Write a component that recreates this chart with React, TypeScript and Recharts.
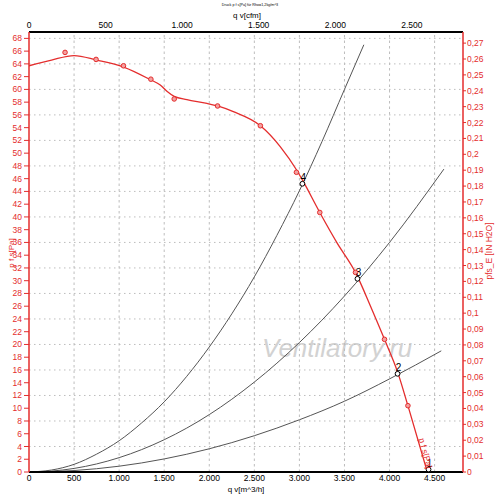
import React from 'react';
import { ComposedChart, Line, Scatter, XAxis, YAxis, ReferenceLine } from 'recharts';

const flowTicks = [0, 500, 1000, 1500, 2000, 2500, 3000, 3500, 4000, 4500];
const cfmTicks = [0, 500, 1000, 1500, 2000, 2500];
const paTicks = [0, 2, 4, 6, 8, 10, 12, 14, 16, 18, 20, 22, 24, 26, 28, 30, 32, 34, 36, 38, 40, 42, 44, 46, 48, 50, 52, 54, 56, 58, 60, 62, 64, 66, 68];
const inchTicks = [0, 0.01, 0.02, 0.03, 0.04, 0.05, 0.06, 0.07, 0.08, 0.09, 0.1, 0.11, 0.12, 0.13, 0.14, 0.15, 0.16, 0.17, 0.18, 0.19, 0.2, 0.21, 0.22, 0.23, 0.24, 0.25, 0.26, 0.27];
const gridPa = [4, 8, 12, 16, 20, 24, 28, 32, 36, 40, 44, 48, 52, 56, 60, 64, 68];
const gridFlow = [500, 1000, 1500, 2000, 2500, 3000, 3500, 4000, 4500];

const flowDomain = [0, 4815];
const cfmDomain = [0, 2834];
const paDomain = [0, 69];
const inchDomain = [0, 0.277];

const fanCurve = [
  { q: 0, p: 63.7 }, { q: 250, p: 64.6 }, { q: 500, p: 65.3 }, { q: 750, p: 64.6 },
  { q: 1050, p: 63.5 }, { q: 1350, p: 61.5 }, { q: 1456, p: 60.7 }, { q: 1530, p: 59.7 },
  { q: 1611, p: 58.9 }, { q: 1752, p: 58.4 }, { q: 1974, p: 57.8 }, { q: 2092, p: 57.4 },
  { q: 2267, p: 56.5 }, { q: 2567, p: 54.3 }, { q: 2789, p: 51.0 }, { q: 2967, p: 47.4 },
  { q: 3033, p: 45.8 }, { q: 3226, p: 40.7 }, { q: 3419, p: 35.9 }, { q: 3622, p: 31.3 },
  { q: 3789, p: 26.0 }, { q: 3944, p: 20.8 }, { q: 4089, p: 15.7 }, { q: 4204, p: 10.4 },
  { q: 4419, p: 0 },
];

const fanMarkers = [
  { q: 400, p: 65.8 }, { q: 744, p: 64.7 }, { q: 1048, p: 63.7 }, { q: 1352, p: 61.6 },
  { q: 1611, p: 58.5 }, { q: 2092, p: 57.4 }, { q: 2567, p: 54.3 }, { q: 2967, p: 47.0 },
  { q: 3226, p: 40.7 }, { q: 3622, p: 31.3 }, { q: 3944, p: 20.8 }, { q: 4204, p: 10.4 },
];

const systemSteep = [
  { q: 0, p: 0 }, { q: 250, p: 0.31 }, { q: 500, p: 1.2 }, { q: 750, p: 2.8 }, { q: 1000, p: 4.9 },
  { q: 1250, p: 7.7 }, { q: 1500, p: 11.0 }, { q: 1750, p: 15.0 }, { q: 2000, p: 19.6 },
  { q: 2250, p: 24.8 }, { q: 2500, p: 30.6 }, { q: 2750, p: 37.1 }, { q: 3000, p: 44.1 },
  { q: 3250, p: 51.8 }, { q: 3500, p: 60.0 }, { q: 3715, p: 67.0 },
];

const systemMid = [
  { q: 0, p: 0 }, { q: 250, p: 0.14 }, { q: 500, p: 0.56 }, { q: 1000, p: 2.25 }, { q: 1500, p: 5.06 },
  { q: 2000, p: 9.0 }, { q: 2500, p: 14.1 }, { q: 3000, p: 20.3 }, { q: 3500, p: 27.6 },
  { q: 4000, p: 36.0 }, { q: 4603, p: 47.5 },
];

const systemLow = [
  { q: 0, p: 0 }, { q: 250, p: 0.06 }, { q: 500, p: 0.23 }, { q: 1000, p: 0.91 }, { q: 1500, p: 2.05 },
  { q: 2000, p: 3.64 }, { q: 2500, p: 5.69 }, { q: 3000, p: 8.19 }, { q: 3500, p: 11.1 },
  { q: 4000, p: 14.6 }, { q: 4574, p: 19.0 },
];

const opPoints = [
  { q: 3033, p: 45.2, label: '4' },
  { q: 3644, p: 30.3, label: '3' },
  { q: 4089, p: 15.4, label: '2' },
  { q: 4433, p: 0.4, label: '1' },
];

const curveLabel = [{ q: 4400, p: 2.95, text: 'p f s[Pa]' }];

const RED = '#e42d2d';
const FONT = '"Liberation Sans", Arial, sans-serif';

const fmtThousands = (v: number) => String(v).replace(/\B(?=(\d{3})+(?!\d))/g, '.');
const fmtInch = (v: number) => (v === 0 ? '0' : String(+v.toFixed(2)).replace('.', ','));

const MarkerShape = (props: any) => (
  <circle cx={props.cx} cy={props.cy} r={2.3} fill="#f3a0a0" stroke={RED} strokeWidth={1} />
);

const OpShape = (props: any) => (
  <g>
    <text x={props.cx + 1} y={props.cy - 2.5} textAnchor="middle" fontSize={10} fontFamily={FONT} fill="#000">
      {props.payload.label}
    </text>
    <circle cx={props.cx} cy={props.cy} r={2.4} fill="#fff" stroke="#000" strokeWidth={1} />
  </g>
);

const LabelShape = (props: any) => (
  <text
    x={props.cx}
    y={props.cy}
    transform={`rotate(75 ${props.cx} ${props.cy})`}
    textAnchor="middle"
    dominantBaseline="central"
    fontSize={8.5}
    fontFamily={FONT}
    fill={RED}
  >
    {props.payload.text}
  </text>
);

export default function App() {
  return (
    <div style={{ position: 'fixed', left: 0, top: 0, width: 500, height: 502, background: '#fff', overflow: 'hidden' }}>
      <div
        style={{
          position: 'absolute', left: 262, top: 333, fontFamily: FONT, fontStyle: 'italic',
          fontSize: 26, color: '#d2d2d2', whiteSpace: 'nowrap', lineHeight: '30px',
        }}
      >
        Ventilatory.ru
      </div>
      <div style={{ position: 'absolute', left: 0, top: 0 }}>
        <ComposedChart width={500} height={502} margin={{ top: 0, right: 0, bottom: 0, left: 0 }}>
          <XAxis
            xAxisId="bottom" orientation="bottom" type="number" dataKey="q"
            domain={flowDomain} ticks={flowTicks} allowDataOverflow interval={0}
            height={30} tickLine={false} tickSize={0} tickMargin={3} tickFormatter={fmtThousands}
            axisLine={{ stroke: '#000', strokeWidth: 2 }}
            tick={{ fill: '#000', fontSize: 8.5, fontFamily: FONT }}
          />
          <XAxis
            xAxisId="top" orientation="top" type="number" dataKey="q"
            domain={cfmDomain} ticks={cfmTicks} allowDataOverflow interval={0}
            height={32} tickLine={false} tickSize={0} tickMargin={4} tickFormatter={fmtThousands}
            axisLine={{ stroke: '#000', strokeWidth: 2 }}
            tick={{ fill: '#000', fontSize: 8.5, fontFamily: FONT }}
          />
          <YAxis
            yAxisId="left" orientation="left" type="number"
            domain={paDomain} ticks={paTicks} allowDataOverflow interval={0}
            width={29} tickSize={5} tickMargin={2}
            axisLine={{ stroke: RED, strokeWidth: 1.5 }} tickLine={{ stroke: RED }}
            tick={{ fill: RED, fontSize: 8.5, fontFamily: FONT }}
          />
          <YAxis
            yAxisId="right" orientation="right" type="number"
            domain={inchDomain} ticks={inchTicks} allowDataOverflow interval={0}
            width={37} tickSize={3} tickMargin={1} tickFormatter={fmtInch}
            axisLine={{ stroke: RED, strokeWidth: 1.5 }} tickLine={{ stroke: RED }}
            tick={{ fill: RED, fontSize: 8.5, fontFamily: FONT }}
          />
          {gridPa.map((v) => (
            <ReferenceLine key={'h' + v} xAxisId="bottom" yAxisId="left" y={v} stroke="#bdbdbd" strokeDasharray="1.5 3.5" />
          ))}
          {gridFlow.map((v) => (
            <ReferenceLine key={'v' + v} xAxisId="bottom" yAxisId="left" x={v} stroke="#bdbdbd" strokeDasharray="2.5 3" />
          ))}
          <Line xAxisId="bottom" yAxisId="left" data={systemSteep} dataKey="p" type="monotone" stroke="#555" strokeWidth={1} dot={false} activeDot={false} isAnimationActive={false} />
          <Line xAxisId="bottom" yAxisId="left" data={systemMid} dataKey="p" type="monotone" stroke="#555" strokeWidth={1} dot={false} activeDot={false} isAnimationActive={false} />
          <Line xAxisId="bottom" yAxisId="left" data={systemLow} dataKey="p" type="monotone" stroke="#555" strokeWidth={1} dot={false} activeDot={false} isAnimationActive={false} />
          <Line xAxisId="bottom" yAxisId="left" data={fanCurve} dataKey="p" type="monotone" stroke={RED} strokeWidth={1.3} dot={false} activeDot={false} isAnimationActive={false} />
          <Scatter xAxisId="bottom" yAxisId="left" data={fanMarkers} dataKey="p" shape={MarkerShape} isAnimationActive={false} />
          <Scatter xAxisId="bottom" yAxisId="left" data={opPoints} dataKey="p" shape={OpShape} isAnimationActive={false} />
          <Scatter xAxisId="bottom" yAxisId="left" data={curveLabel} dataKey="p" shape={LabelShape} isAnimationActive={false} />
        </ComposedChart>
      </div>
      <div style={{ position: 'absolute', left: 0, width: 500, top: 3, textAlign: 'center', fontFamily: FONT, fontSize: 3.7, lineHeight: '4px', color: '#000', whiteSpace: 'nowrap' }}>
        Druck p f s[Pa] für Rho=1,2kg/m^3
      </div>
      <div style={{ position: 'absolute', left: 147, width: 200, top: 11, textAlign: 'center', fontFamily: FONT, fontSize: 8, lineHeight: '10px', color: '#000' }}>
        q v[cfm]
      </div>
      <div style={{ position: 'absolute', left: 146, width: 200, top: 485, textAlign: 'center', fontFamily: FONT, fontSize: 8, lineHeight: '10px', color: '#000' }}>
        q v[m^3/h]
      </div>
      <div style={{ position: 'absolute', left: 12, top: 253, width: 0, height: 0 }}>
        <div style={{ position: 'absolute', left: -50, top: -5, width: 100, textAlign: 'center', fontFamily: FONT, fontSize: 8, lineHeight: '10px', color: RED, transform: 'rotate(-90deg)' }}>
          p f s[Pa]
        </div>
      </div>
      <div style={{ position: 'absolute', left: 489, top: 251, width: 0, height: 0 }}>
        <div style={{ position: 'absolute', left: -50, top: -5, width: 100, textAlign: 'center', fontFamily: FONT, fontSize: 8.5, lineHeight: '10px', color: RED, transform: 'rotate(-90deg)', whiteSpace: 'nowrap' }}>
          pfs_E [IN H2O]
        </div>
      </div>
    </div>
  );
}
